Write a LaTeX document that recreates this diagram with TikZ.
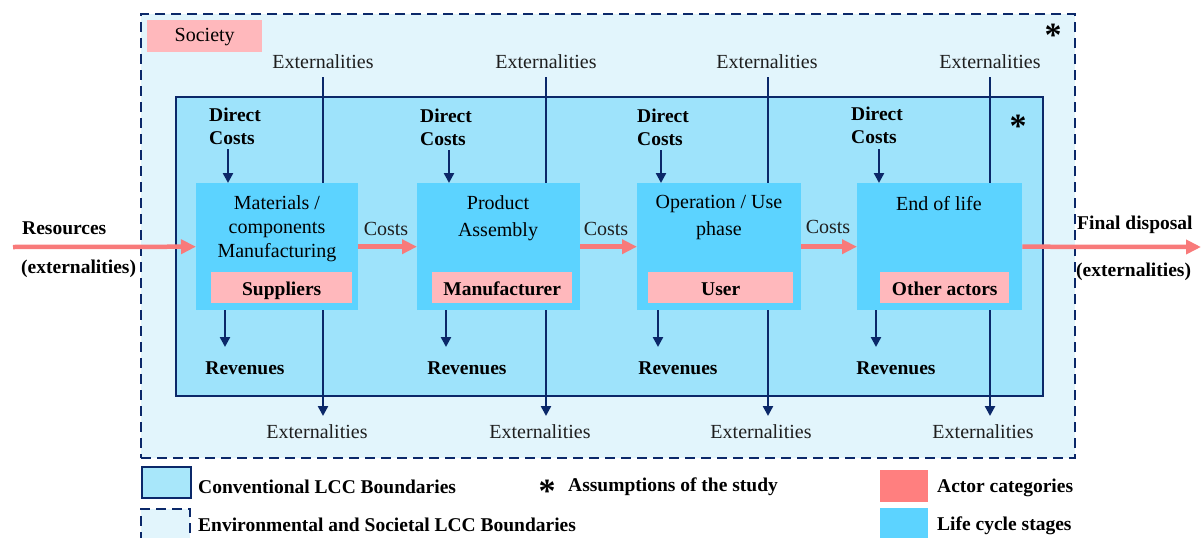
\documentclass[tikz,border=0pt]{standalone}
\usepackage{fontspec}
\setmainfont{Liberation Serif}
\usetikzlibrary{arrows.meta}
\definecolor{outerfill}{HTML}{E2F5FC}
\definecolor{innerfill}{HTML}{9EE3FB}
\definecolor{stagefill}{HTML}{5CD3FF}
\definecolor{actorfill}{HTML}{FFB8BC}
\definecolor{legred}{HTML}{FF7F7F}
\definecolor{pinkarrow}{HTML}{F87A7A}
\definecolor{navy}{HTML}{0B2869}
\definecolor{legblue}{HTML}{A8E7FA}
\definecolor{txtgray}{HTML}{1E1E1E}
\tikzset{
  regtxt/.style={font=\fontsize{20}{24}\selectfont, text=txtgray, inner sep=0pt},
  boldtxt/.style={font=\fontsize{19.5}{23}\selectfont\bfseries, text=black, inner sep=0pt},
  stagebox/.style={fill=stagefill, draw=none, inner sep=0pt, anchor=north west},
  actorbox/.style={fill=actorfill, draw=none, inner sep=0pt, text height=18pt, text depth=3pt, font=\fontsize{19.5}{23}\selectfont\bfseries},
  navyline/.style={draw=navy, line width=2.4pt},
  navyarrow/.style={draw=navy, line width=2.4pt, -{Triangle[length=10pt,width=10pt]}},
  pinkline/.style={draw=pinkarrow, line width=4.5pt, -{Triangle[length=15pt,width=14pt]}},
  dashedbound/.style={draw=navy, line width=2.4pt, dash pattern=on 10pt off 6pt},
  solidbound/.style={draw=navy, line width=2.4pt},
  starsym/.style={font=\fontsize{34}{34}\selectfont\bfseries, inner sep=0pt}
}
\begin{document}
\begin{tikzpicture}[x=1pt,y=-1pt]
\useasboundingbox (0,0) rectangle (1202,538);
% boundaries
\node[dashedbound, fill=outerfill, inner sep=0pt, minimum width=934pt, minimum height=444pt, anchor=north west] (outer) at (140,13) {};
\node[solidbound, fill=innerfill, inner sep=0pt, minimum width=867pt, minimum height=299pt, anchor=north west] (inner) at (175,96) {};
\node[fill=actorfill, inner sep=0pt, minimum width=115pt, minimum height=32pt, anchor=north west, regtxt, text=black, text height=14pt, text depth=4pt] (soc) at (147,20) {Society};
\node[starsym] (star1) at (1053,35) {*};
\node[starsym] (star2) at (1018,126) {*};
% externalities labels
\node[regtxt] (xt1) at (323,62) {Externalities};
\node[regtxt] (xt2) at (546,62) {Externalities};
\node[regtxt] (xt3) at (767,62) {Externalities};
\node[regtxt] (xt4) at (990,62) {Externalities};
\node[regtxt] (xb1) at (317,432) {Externalities};
\node[regtxt] (xb2) at (540,432) {Externalities};
\node[regtxt] (xb3) at (761,432) {Externalities};
\node[regtxt] (xb4) at (983,432) {Externalities};
\coordinate (xs1) at (323,77); \coordinate (xe1) at (323,416);
\coordinate (xs2) at (546,77); \coordinate (xe2) at (546,416);
\coordinate (xs3) at (768,77); \coordinate (xe3) at (768,416);
\coordinate (xs4) at (990,77); \coordinate (xe4) at (990,416);
\draw[navyarrow] (xs1) -- (xe1);
\draw[navyarrow] (xs2) -- (xe2);
\draw[navyarrow] (xs3) -- (xe3);
\draw[navyarrow] (xs4) -- (xe4);
% stages
\node[stagebox, minimum width=162pt, minimum height=127pt] (s1) at (196,183) {};
\node[stagebox, minimum width=163pt, minimum height=127pt] (s2) at (417,183) {};
\node[stagebox, minimum width=164pt, minimum height=127pt] (s3) at (637,183) {};
\node[stagebox, minimum width=165pt, minimum height=127pt] (s4) at (857,183) {};
\node[regtxt, align=center, font=\fontsize{20}{24}\selectfont, text=black, anchor=north] (t1) at (277,195) {Materials /\\components\\Manufacturing};
\node[regtxt, align=center, font=\fontsize{20}{27}\selectfont, text=black, anchor=north] (t2) at (498,195) {Product\\Assembly};
\node[regtxt, align=center, font=\fontsize{20}{27}\selectfont, text=black, anchor=north] (t3) at (719,195) {Operation / Use\\phase};
\node[regtxt, text=black] (t4) at (939,204) {End of life};
\node[actorbox, minimum width=141pt, minimum height=31pt, anchor=north west] (a1) at (211,272) {Suppliers};
\node[actorbox, minimum width=140pt, minimum height=31pt, anchor=north west] (a2) at (432,272) {Manufacturer};
\node[actorbox, minimum width=145pt, minimum height=31pt, anchor=north west] (a3) at (648,272) {User};
\node[actorbox, minimum width=129pt, minimum height=31pt, anchor=north west] (a4) at (880,272) {Other actors};
% direct costs
\node[boldtxt, align=left, anchor=north west] (dc1) at (209,108) {Direct\\Costs};
\node[boldtxt, align=left, anchor=north west] (dc2) at (420,109) {Direct\\Costs};
\node[boldtxt, align=left, anchor=north west] (dc3) at (637,109) {Direct\\Costs};
\node[boldtxt, align=left, anchor=north west] (dc4) at (851,107) {Direct\\Costs};
\coordinate (d1) at (228,149); \coordinate (d2) at (449,150);
\coordinate (d3) at (661,150); \coordinate (d4) at (879,149);
\draw[navyarrow] (d1) -- (d1 |- s1.north);
\draw[navyarrow] (d2) -- (d2 |- s2.north);
\draw[navyarrow] (d3) -- (d3 |- s3.north);
\draw[navyarrow] (d4) -- (d4 |- s4.north);
% revenues
\node[boldtxt] (r1) at (245,368) {Revenues};
\node[boldtxt] (r2) at (467,368) {Revenues};
\node[boldtxt] (r3) at (678,368) {Revenues};
\node[boldtxt] (r4) at (896,368) {Revenues};
\coordinate (v1) at (225,347); \coordinate (v2) at (446,347);
\coordinate (v3) at (658,347); \coordinate (v4) at (876,347);
\draw[navyarrow] (v1 |- s1.south) -- (v1);
\draw[navyarrow] (v2 |- s2.south) -- (v2);
\draw[navyarrow] (v3 |- s3.south) -- (v3);
\draw[navyarrow] (v4 |- s4.south) -- (v4);
% pink flow
\coordinate (res) at (13,247);
\coordinate (fin) at (1201,247);
\draw[pinkline] (res) -- (s1.west);
\draw[pinkline] (s1.east) -- (s2.west);
\draw[pinkline] (s2.east) -- (s3.west);
\draw[pinkline] (s3.east) -- (s4.west);
\draw[pinkline] (s4.east) -- (fin);
\node[regtxt] (c1) at (386,229) {Costs};
\node[regtxt] (c2) at (606,229) {Costs};
\node[regtxt] (c3) at (828,227) {Costs};
\node[boldtxt, anchor=west] (rs) at (22,228) {Resources};
\node[boldtxt, anchor=west] (rx) at (21,269) {(externalities)};
\node[boldtxt, anchor=west] (fd) at (1077,225) {Final disposal};
\node[boldtxt, anchor=west] (fx) at (1076,272) {(externalities)};
% legend
\node[solidbound, fill=legblue, inner sep=0pt, minimum width=49pt, minimum height=31pt, anchor=north west] (lg1) at (141,466) {};
\node[boldtxt, anchor=west] (lt1) at (198,487) {Conventional LCC Boundaries};
\draw[dashedbound, fill=outerfill] (141,542) -- (141,509) -- (190,509) -- (190,542);
\coordinate (lg2) at (165,525);
\node[boldtxt, anchor=west] (lt2) at (198,525) {Environmental and Societal LCC Boundaries};
\node[starsym] (lstar) at (547,491) {*};
\node[boldtxt, anchor=west] (lt3) at (568,487) {Assumptions of the study};
\node[fill=legred, inner sep=0pt, minimum width=48pt, minimum height=32pt, anchor=north west] (lg3) at (880,470) {};
\node[boldtxt, anchor=west] (lt4) at (937,488) {Actor categories};
\node[fill=stagefill, inner sep=0pt, minimum width=48pt, minimum height=31pt, anchor=north west] (lg4) at (880,508) {};
\node[boldtxt, anchor=west] (lt5) at (937,526) {Life cycle stages};
\end{tikzpicture}
\end{document}
